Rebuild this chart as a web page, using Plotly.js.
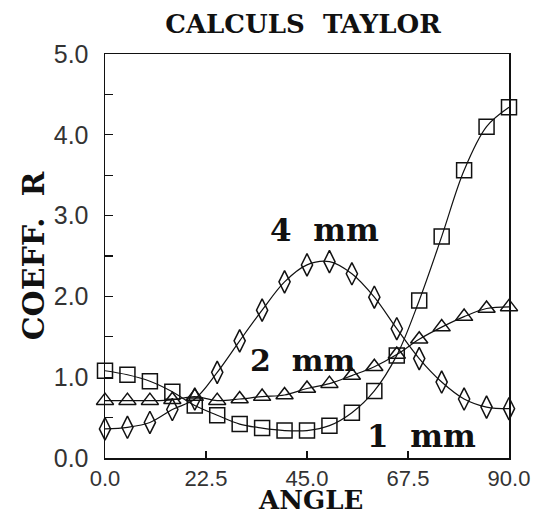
<!DOCTYPE html>
<html>
<head>
<meta charset="utf-8">
<script src="https://cdn.plot.ly/plotly-3.0.1.min.js"></script>
<style>html,body{margin:0;padding:0;background:#fff;}#chart{width:544px;height:515px;}</style>
</head>
<body>
<div id="chart"></div>
<script>
const angles = [0,5,10,15,20,25,30,35,40,45,50,55,60,65,70,75,80,85,90];
const r1mm = [1.08,1.03,0.95,0.82,0.65,0.53,0.42,0.37,0.34,0.34,0.40,0.56,0.83,1.27,1.95,2.74,3.56,4.10,4.34];
const r2mm = [0.71,0.71,0.71,0.72,0.76,0.71,0.73,0.76,0.78,0.86,0.92,1.02,1.13,1.28,1.47,1.62,1.75,1.85,1.87];
const r4mm = [0.36,0.38,0.44,0.60,0.73,1.06,1.45,1.83,2.18,2.39,2.43,2.28,1.99,1.60,1.23,0.94,0.73,0.63,0.61];
const seriesLabels = ['1&nbsp;&nbsp;mm','2&nbsp;&nbsp;mm','4&nbsp;&nbsp;mm'];
const xTickVals = [0,22.5,45,67.5,90];
const xTickText = ['0.0','22.5','45.0','67.5','90.0'];
const yTickVals = [0,1,2,3,4,5];
const yTickText = ['0.0','1.0','2.0','3.0','4.0','5.0'];

const serif = 'DejaVu Serif, Liberation Serif, serif';
const sans = 'Liberation Sans, Arial, sans-serif';
function tr(y, sym, size, name){
  return {x: angles, y: y, name: name, type:'scatter', mode:'lines+markers',
    line:{color:'#111', width:1.2, shape:'spline', smoothing:1},
    marker:{symbol:sym, size:size, color:'#111', line:{color:'#111', width:1.5}},
    cliponaxis:false, showlegend:false};
}
const data = [
  tr(r1mm,'square-open',15,'1 mm'),
  tr(r2mm,'triangle-up-open',15,'2 mm'),
  tr(r4mm,'diamond-tall-open',16,'4 mm')
];
const H = 515;
const layout = {
  width:544, height:515,
  margin:{l:105, r:35, t:54, b:57},
  paper_bgcolor:'#fff', plot_bgcolor:'#fff',
  font:{family:serif, color:'#111'},
  title:{text:'<b>CALCULS&nbsp; TAYLOR</b>', font:{family:serif, size:26, color:'#111'}, x:303/544, xanchor:'center', xref:'container', y:1-24/H, yanchor:'middle', yref:'container'},
  xaxis:{range:[0,90], tickvals:xTickVals, ticktext:xTickText, ticks:'inside', ticklen:7, tickcolor:'#111', tickwidth:1.3,
    showline:true, linecolor:'#111', linewidth:1.5, mirror:true, showgrid:false, zeroline:false,
    tickfont:{family:sans, size:22, color:'#333'}},
  yaxis:{range:[0,5], tickvals:yTickVals, ticktext:yTickText, ticks:'inside', ticklen:8, tickcolor:'#111', tickwidth:1.3,
    minor:{dtick:0.5, ticks:'inside', ticklen:8, tickcolor:'#111'},
    showline:true, linecolor:'#111', linewidth:1.5, mirror:true, showgrid:false, zeroline:false,
    tickfont:{family:sans, size:25, color:'#333'}, ticklabelstandoff:10,
    title:{text:'<b>COEFF.&nbsp; R</b>', font:{family:serif, size:30, color:'#111'}, standoff:0}},
  annotations:[
    {xref:'paper', yref:'paper', x:(310-105)/404, y:-(500-458)/404, xanchor:'center', yanchor:'middle',
      text:'<b>ANGLE</b>', showarrow:false, font:{family:serif, size:26, color:'#111'}, borderpad:0},
    {x:49, y:2.82, xref:'x', yref:'y', text:'<b>'+seriesLabels[2]+'</b>', showarrow:false, font:{family:serif, size:31, color:'#111'}},
    {x:44, y:1.21, xref:'x', yref:'y', text:'<b>'+seriesLabels[1]+'</b>', showarrow:false, font:{family:serif, size:30, color:'#111'}},
    {x:70.6, y:0.27, xref:'x', yref:'y', text:'<b>'+seriesLabels[0]+'</b>', showarrow:false, font:{family:serif, size:31, color:'#111'}}
  ]
};
Plotly.newPlot('chart', data, layout, {staticPlot:true, displayModeBar:false});
</script>
</body>
</html>
